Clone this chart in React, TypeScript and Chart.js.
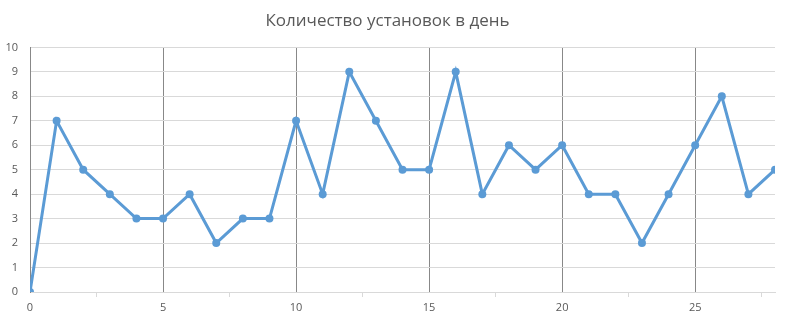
import React, { useEffect, useRef } from "react";
import { Chart, registerables } from "chart.js";

Chart.register(...registerables);

const title = "Количество установок в день";
const days = [0, 1, 2, 3, 4, 5, 6, 7, 8, 9, 10, 11, 12, 13, 14, 15, 16, 17, 18, 19, 20, 21, 22, 23, 24, 25, 26, 27, 28];
const installs = [0, 7, 5, 4, 3, 3, 4, 2, 3, 3, 7, 4, 9, 7, 5, 5, 9, 4, 6, 5, 6, 4, 4, 2, 4, 6, 8, 4, 5];

export default function App() {
  const ref = useRef<HTMLCanvasElement | null>(null);

  useEffect(() => {
    document.body.style.margin = "0";
    const canvas = ref.current;
    if (!canvas) return;
    const isMajor = (v: number) => Math.abs(v / 5 - Math.round(v / 5)) < 1e-6;
    const chart = new Chart(canvas, {
      type: "line",
      data: {
        datasets: [
          {
            data: days.map((d, i) => ({ x: d, y: installs[i] })),
            borderColor: "#5b9bd5",
            backgroundColor: "#5b9bd5",
            borderWidth: 3,
            pointRadius: 4,
            pointHoverRadius: 4,
            pointBorderWidth: 0,
            tension: 0,
          },
        ],
      },
      options: {
        animation: false,
        responsive: true,
        maintainAspectRatio: false,
        layout: { padding: { left: 0, right: 18, top: 0, bottom: 0 } },
        plugins: {
          legend: { display: false },
          tooltip: { enabled: false },
          title: {
            display: true,
            text: title,
            color: "#595959",
            font: { family: "'Open Sans', sans-serif", size: 17, weight: "normal" },
            padding: { top: 11, bottom: 16 },
          },
        },
        scales: {
          x: {
            type: "linear",
            min: 0,
            max: 28,
            afterFit: (s: any) => {
              s.height = 31;
            },
            afterBuildTicks: (s: any) => {
              const t = [];
              for (let v = 0; v <= 28; v += 2.5) t.push({ value: v });
              s.ticks = t;
            },
            ticks: {
              autoSkip: false,
              maxRotation: 0,
              color: "#595959",
              font: { family: "'Open Sans', sans-serif", size: 11 },
              padding: 4,
              callback: (v: any) => (isMajor(Number(v)) ? String(v) : ""),
            },
            grid: {
              color: (ctx: any) => (ctx.tick && isMajor(ctx.tick.value) ? "#888888" : "rgba(0,0,0,0)"),
              tickColor: (ctx: any) => (ctx.tick && isMajor(ctx.tick.value) ? "rgba(0,0,0,0)" : "#d9d9d9"),
              tickLength: 5,
              lineWidth: 1,
            },
            border: { display: true, color: "#d9d9d9" },
          },
          y: {
            min: 0,
            max: 10,
            afterFit: (s: any) => {
              s.width = 30;
            },
            ticks: {
              stepSize: 1,
              color: "#595959",
              font: { family: "'Open Sans', sans-serif", size: 11 },
              padding: 12,
            },
            grid: {
              color: "#d9d9d9",
              drawTicks: false,
              lineWidth: 1,
            },
            border: { display: true, color: "#888888" },
          },
        },
      },
    });
    return () => chart.destroy();
  }, []);

  return (
    <div style={{ width: 793, height: 323, position: "relative", background: "#fff" }}>
      <canvas ref={ref} />
    </div>
  );
}
